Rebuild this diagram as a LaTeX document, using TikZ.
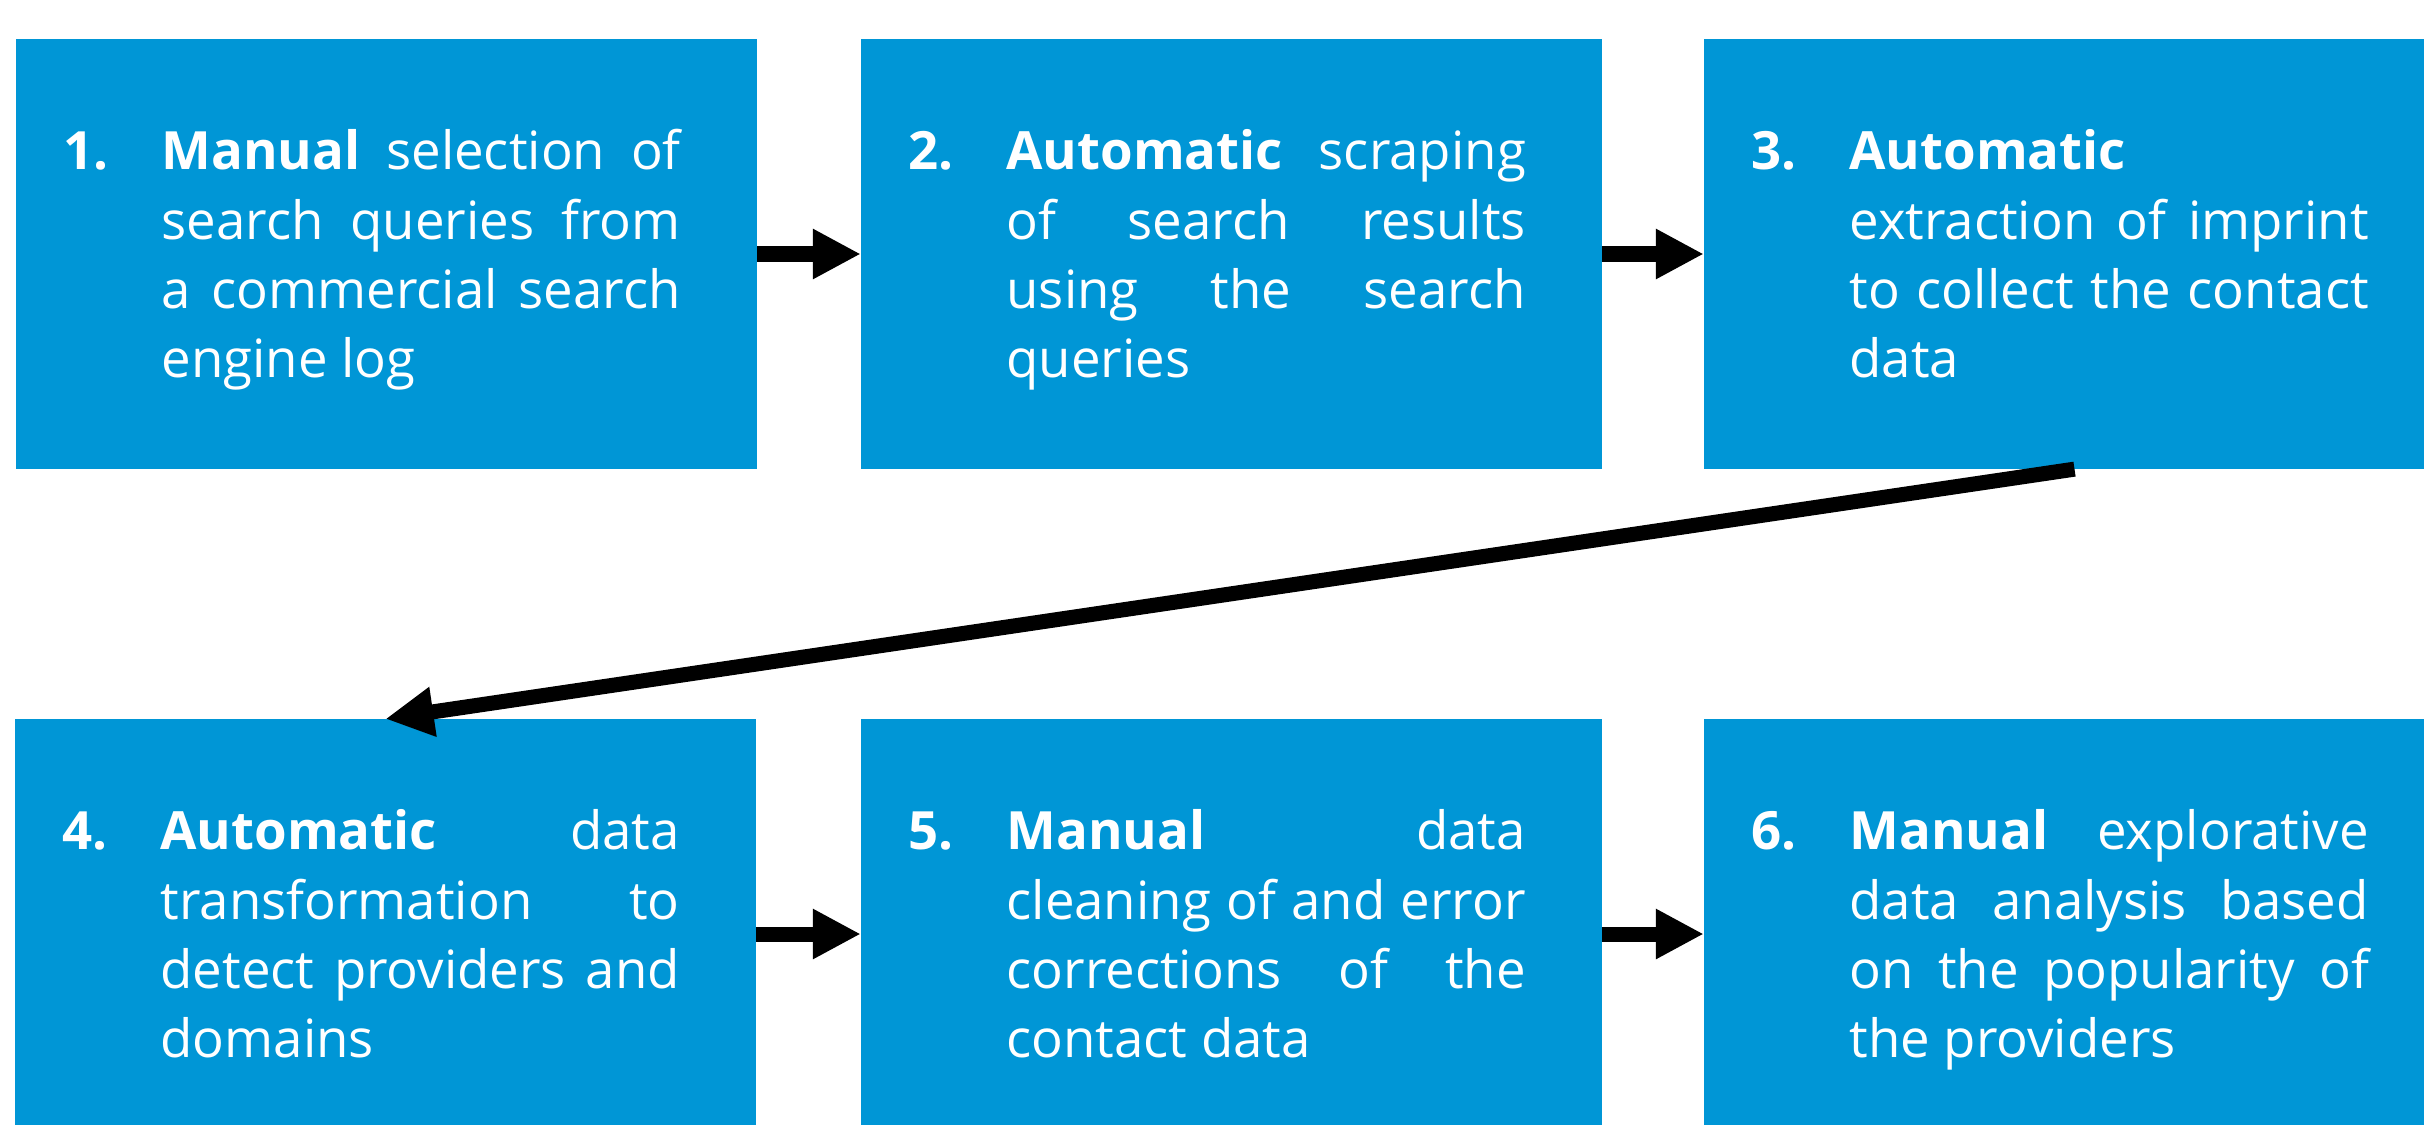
\documentclass[tikz,border=0pt]{standalone}
\usepackage{fontspec}
\setmainfont{Open Sans}
\usetikzlibrary{arrows.meta,calc}
\definecolor{boxblue}{RGB}{0,150,214}
\tikzset{
  stepbox/.style={fill=boxblue, draw=none, minimum width=7.41cm, minimum height=4.30cm, inner sep=0pt, outer sep=0pt},
  steptext/.style={anchor=base west, inner sep=0pt, text=white, font=\fontsize{15}{19.7}\selectfont},
  flow/.style={line width=0.15cm, -{Triangle[length=0.48cm,width=0.47cm]}},
}
\newcommand{\stepcontent}[5]{\hbox{\makebox[0.98cm][l]{\bfseries #1}\vtop{\hsize=5.19cm\hbox to\hsize{#2}\hbox to\hsize{#3}\hbox to\hsize{#4}\hbox{#5}}}}
\begin{document}
\begin{tikzpicture}[x=0.01cm,y=-0.01cm]
\fill[white] (0,0) rectangle (2424,1124);
\useasboundingbox (0,0) rectangle (2424,1124);
% boxes
\node[stepbox] (b1) at (386.5,254) {};
\node[stepbox] (b2) at (1231.5,254) {};
\node[stepbox] (b3) at (2074.5,254) {};
\node[stepbox] (b4) at (385.5,934) {};
\node[stepbox] (b5) at (1231.5,934) {};
\node[stepbox] (b6) at (2074.5,934) {};
% texts
\node[steptext] (t1) at ($(b1.north west)+(47,131)$) {\stepcontent{1.}{\textbf{Manual} selection of}{search queries from}{a commercial search}{engine log}};
\node[steptext] (t2) at ($(b2.north west)+(47,131)$) {\stepcontent{2.}{\textbf{Automatic} scraping}{of search results}{using the search}{queries}};
\node[steptext] (t3) at ($(b3.north west)+(47,131)$) {\stepcontent{3.}{\textbf{Automatic}\hfil}{extraction of imprint}{to collect the contact}{data}};
\node[steptext] (t4) at ($(b4.north west)+(47,131)$) {\stepcontent{4.}{\textbf{Automatic} data}{transformation to}{detect providers and}{domains}};
\node[steptext] (t5) at ($(b5.north west)+(47,131)$) {\stepcontent{5.}{\textbf{Manual} data}{cleaning of and error}{corrections of the}{contact data}};
\node[steptext] (t6) at ($(b6.north west)+(47,131)$) {\stepcontent{6.}{\textbf{Manual} explorative}{data analysis based}{on the popularity of}{the providers}};
% arrows
\draw[flow] (b1.east) -- (b2.west);
\draw[flow] (b2.east) -- (b3.west);
\draw[flow] (b3.south) -- (b4.north);
\draw[flow] (b4.east) -- (b5.west);
\draw[flow] (b5.east) -- (b6.west);
\end{tikzpicture}
\end{document}
